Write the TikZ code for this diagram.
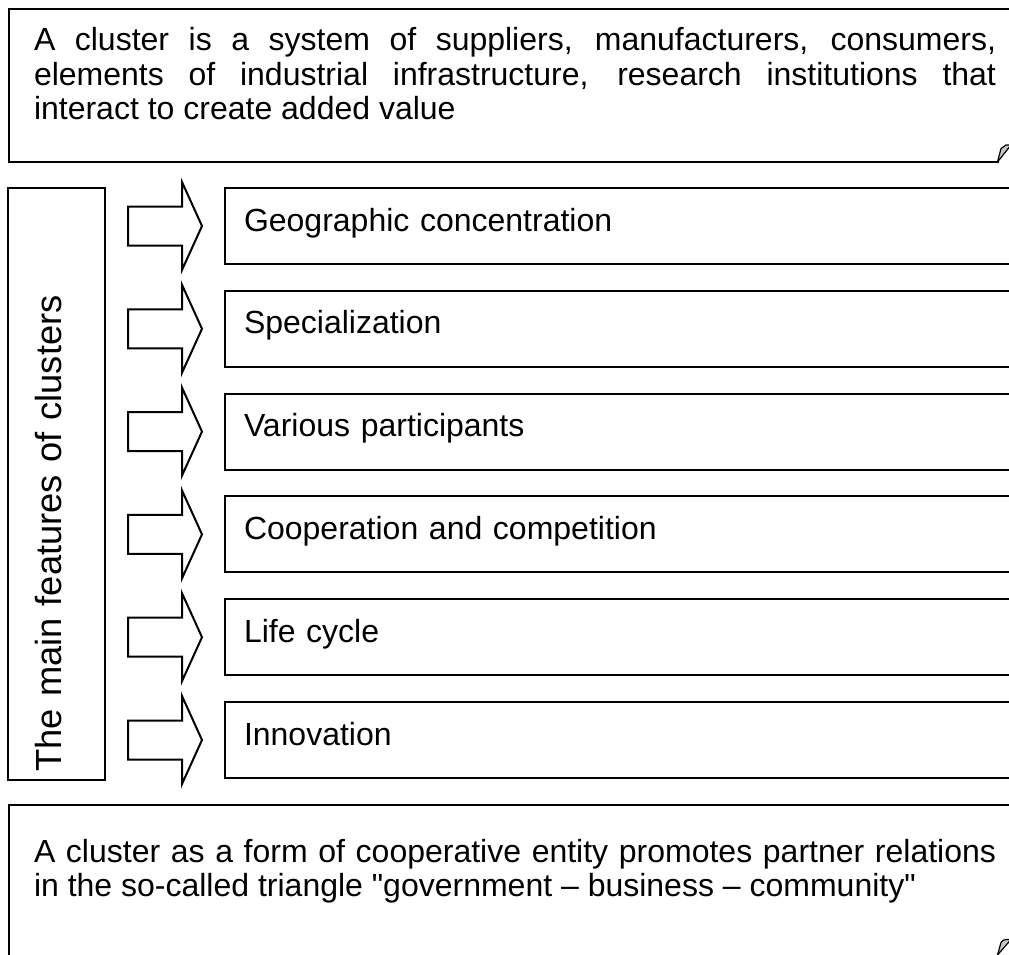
\documentclass[tikz,border=0pt]{standalone}
\usepackage{fontspec}
\setmainfont{Liberation Sans}[Ligatures=TeXOff]
\usetikzlibrary{calc}
\newcommand\bigtext{\fontsize{32}{34.5}\selectfont}
\newcommand\sidetext{\fontsize{36.3}{40}\selectfont}
\begin{document}
\begin{tikzpicture}[x=1pt,y=-1pt,
  frame/.style={draw, line width=2pt, inner sep=0pt, anchor=north west},
  feat/.style={draw, line width=2pt, anchor=west, minimum height=76pt,
    inner xsep=19pt, inner ysep=0pt, text width=862pt, align=left,
    text height=24pt, text depth=14pt, font=\bigtext},
  side/.style={draw, line width=2pt, rotate=90, minimum width=592pt,
    minimum height=97pt, inner xsep=8pt, inner ysep=0pt, text width=576pt,
    align=left, text height=20pt, text depth=11pt, font=\sidetext},
  fold/.style={draw, line width=1.2pt, fill=gray!45, line join=round},
  bigarrow/.style={draw, line width=2pt, line join=miter}]
\useasboundingbox (0,0) rectangle (1009,955);
\clip (0,0) rectangle (1009,955);

% top definition box
\node[frame] (top) at (8,8) {\parbox[c][153pt][t]{1100pt}{\leftskip=25pt\rightskip=113pt\bigtext
  \noindent\rule{0pt}{42pt}A cluster is a system of suppliers, manufacturers, consumers,\linebreak
  elements of industrial infrastructure, research institutions that\linebreak
  interact to create added value\par}};
\fill[white] (999,156) rectangle (1009,168);
\draw[fold] (997.5,162) .. controls (999,155) .. (1001,148.5) .. controls (1003,146) .. (1006,145)
  -- (1011,145) -- cycle;

% side box
\node[side] (feat) at (56.5,483.5) {The main features of clusters};

% features with arrows
\foreach \i/\t in {1/Geographic concentration, 2/Specialization, 3/Various participants,
                   4/Cooperation and competition, 5/Life cycle, 6/Innovation} {
  \node[feat] (f\i) at (224,{226+102.8*(\i-1)}) {\t};
  \draw[bigarrow] ($(f\i.west)+(-22,0)$) coordinate (tip\i) -- ++(-20,-44) -- ++(0,24.5)
     -- ++(-54,0) -- ++(0,39) -- ++(54,0) -- ++(0,24.5) -- cycle;
}

% bottom box
\node[frame] (bot) at (8,804) {\parbox[c][153pt][t]{1100pt}{\leftskip=25pt\rightskip=113pt\bigtext
  \noindent\rule{0pt}{57pt}A cluster as a form of cooperative entity promotes partner relations\linebreak
  in the so-called triangle "government – business – community"\par}};
\draw[fold] (997.5,955) .. controls (999,949) .. (1001,942.5) .. controls (1003,940) .. (1006,939.5)
  -- (1011,939.5) -- cycle;
\end{tikzpicture}
\end{document}
